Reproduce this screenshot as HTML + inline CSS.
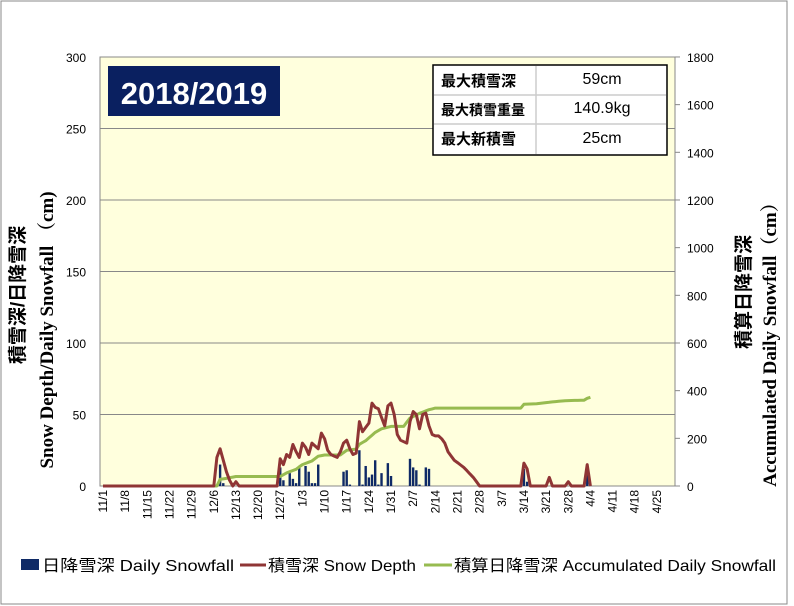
<!DOCTYPE html>
<html><head><meta charset="utf-8"><style>
html,body{margin:0;padding:0;background:#fff;width:794px;height:606px;overflow:hidden}
svg{display:block}
text{font-family:"Liberation Sans","Noto Sans CJK JP",sans-serif}
</style></head><body>
<svg id="s" width="794" height="606" xmlns="http://www.w3.org/2000/svg">
<rect x="1" y="1" width="786" height="603" fill="#fff" stroke="#888" stroke-width="1"/>
<rect x="100" y="57" width="575" height="429" fill="#ffffdd" stroke="#888"/>
<g id="grid" stroke="#888" stroke-width="1"></g>
<g id="bars" fill="#0f2a66"></g>
<polyline id="acc" fill="none" stroke="#97bb50" stroke-width="3" stroke-linejoin="round"/>
<polyline id="dep" fill="none" stroke="#8f3535" stroke-width="3" stroke-linejoin="round"/>
<g id="lab" font-size="12" fill="#000"></g>
<rect x="108" y="66" width="172" height="50" fill="#0a2060"/>
<text x="194" y="104" text-anchor="middle" font-size="31" font-weight="bold" fill="#fff">2018/2019</text>
<rect x="433" y="65" width="234" height="90" fill="#fff" stroke="#000" stroke-width="1.5"/>
<line x1="536" y1="66" x2="536" y2="154" stroke="#ccc" stroke-width="1.5"/>
<line x1="434" y1="95" x2="666" y2="95" stroke="#ccc" stroke-width="1.5"/>
<line x1="434" y1="124" x2="666" y2="124" stroke="#ccc" stroke-width="1.5"/>
<g font-weight="bold" font-size="15"><text x="441" y="86">最大積雪深</text><text x="441" y="115" font-size="14">最大積雪重量</text><text x="441" y="144">最大新積雪</text></g>
<g font-size="16" text-anchor="middle"><text x="602" y="84">59cm</text><text x="602" y="113">140.9kg</text><text x="602" y="143">25cm</text></g>
<text transform="translate(24,295) rotate(-90)" text-anchor="middle" font-size="19" font-weight="bold">積雪深/日降雪深</text>
<text transform="translate(53,330) rotate(-90)" text-anchor="middle" font-size="19" font-weight="bold" style="font-family:'Liberation Serif','Noto Serif CJK SC',serif">Snow Depth/Daily Snowfall （cm)</text>
<text transform="translate(750,292) rotate(-90)" text-anchor="middle" font-size="19" font-weight="bold">積算日降雪深</text>
<text transform="translate(776,340) rotate(-90)" text-anchor="middle" font-size="19" font-weight="bold" style="font-family:'Liberation Serif','Noto Serif CJK SC',serif">Accumulated Daily Snowfall（cm）</text>
<rect x="21" y="559" width="18" height="11" fill="#0f2a66"/>
<text x="42" y="571" font-size="16" textLength="192" lengthAdjust="spacingAndGlyphs">日降雪深 Daily Snowfall</text>
<line x1="240" y1="565" x2="266" y2="565" stroke="#8f3535" stroke-width="3"/>
<text x="268" y="571" font-size="16" textLength="148" lengthAdjust="spacingAndGlyphs">積雪深 Snow Depth</text>
<line x1="424" y1="565" x2="452" y2="565" stroke="#97bb50" stroke-width="3"/>
<text x="454" y="571" font-size="16" textLength="322" lengthAdjust="spacingAndGlyphs">積算日降雪深 Accumulated Daily Snowfall</text>
</svg>
<script>
var NS="http://www.w3.org/2000/svg";
function X(d){return 103+3.165*d;}
function Y(c){return 486-c*1.43;}
function Y2(v){return 486-v*0.23833;}
function el(t,a,p,txt){var e=document.createElementNS(NS,t);for(var k in a)e.setAttribute(k,a[k]);if(txt!==undefined)e.textContent=txt;document.getElementById(p).appendChild(e);}
for(var i=1;i<6;i++){var y=57+i*71.5;el("line",{x1:100,y1:y,x2:675,y2:y},"grid");}
for(var i=0;i<=6;i++){el("text",{x:86,y:57+i*71.5+5,"text-anchor":"end"},"lab",String(300-50*i));}
for(var i=0;i<=9;i++){var y=486-i*47.67;el("line",{x1:675,y1:y,x2:680,y2:y},"grid");el("text",{x:687,y:y+5},"lab",String(i*200));}
var dates=["11/1","11/8","11/15","11/22","11/29","12/6","12/13","12/20","12/27","1/3","1/10","1/17","1/24","1/31","2/7","2/14","2/21","2/28","3/7","3/14","3/21","3/28","4/4","4/11","4/18","4/25"];
dates.forEach(function(s,i){var x=X(i*7)+4;el("text",{x:x,y:490,"text-anchor":"end",transform:"rotate(-90 "+x+" 490)"},"lab",s);});
var dk={0:0,35:0,36:20,37:26,38:18,39:10,40:4,41:0,42:3,43:0,55:0,56:19,57:15,58:22,59:20,60:29,61:24,62:20,63:30,64:27,65:22,66:30,67:28,68:26,69:37,70:33,71:25,72:22,73:21,74:20,75:24,76:30,77:32,78:26,79:22,80:23,81:45,82:38,83:41,84:44,85:58,86:55,87:54,88:48,89:42,90:56,91:58,92:50,93:36,94:32,95:31,96:30,97:45,98:52,99:50,100:40,101:50,102:51,103:42,104:36,105:35,106:35,107:33,108:30,109:24,110:21,111:18,114:13,117:6,119:0,132:0,133:16,134:12,135:0,140:0,141:6,142:0,146:0,147:3,148:0,152:0,153:15,154:0};
function series(k){var ks=Object.keys(k).map(Number).sort(function(a,b){return a-b});var o=[];for(var i=0;i<ks.length-1;i++){for(var d=ks[i];d<ks[i+1];d++){o[d]=k[ks[i]]+(k[ks[i+1]]-k[ks[i]])*(d-ks[i])/(ks[i+1]-ks[i]);}}o[ks[ks.length-1]]=k[ks[ks.length-1]];return o;}
var dep=series(dk);
document.getElementById("dep").setAttribute("points",dep.map(function(v,d){return X(d).toFixed(1)+","+Y(v).toFixed(1)}).join(" "));
var ak={0:0,36:0,37:28,39:32,42:40,56:40,58:55,61:70,63:90,66:105,68:125,70:130,75:130,77:150,80:155,81:175,83:190,86:225,88:240,91:250,95:250,97:285,100:305,103:320,105:327,132:327,133:343,137:345,140:350,146:358,152:360,153:368,154:372};
var ac=series(ak);
document.getElementById("acc").setAttribute("points",ac.map(function(v,d){return X(d).toFixed(1)+","+Y2(v).toFixed(1)}).join(" "));
var bars={37:15,38:2,56:13,57:4,59:9,60:5,61:2,62:14,64:14,65:10,66:2,67:2,68:15,76:10,77:11,78:1,81:25,82:1,83:14,84:6,85:8,86:18,87:1,88:9,90:16,91:7,97:19,98:13,99:11,100:1,102:13,103:12,133:12,134:3,153:10};
for(var d in bars){var h=bars[d]*1.43;el("rect",{x:X(+d)-1.2,y:486-h,width:2.4,height:h},"bars");}
</script>
</body></html>
